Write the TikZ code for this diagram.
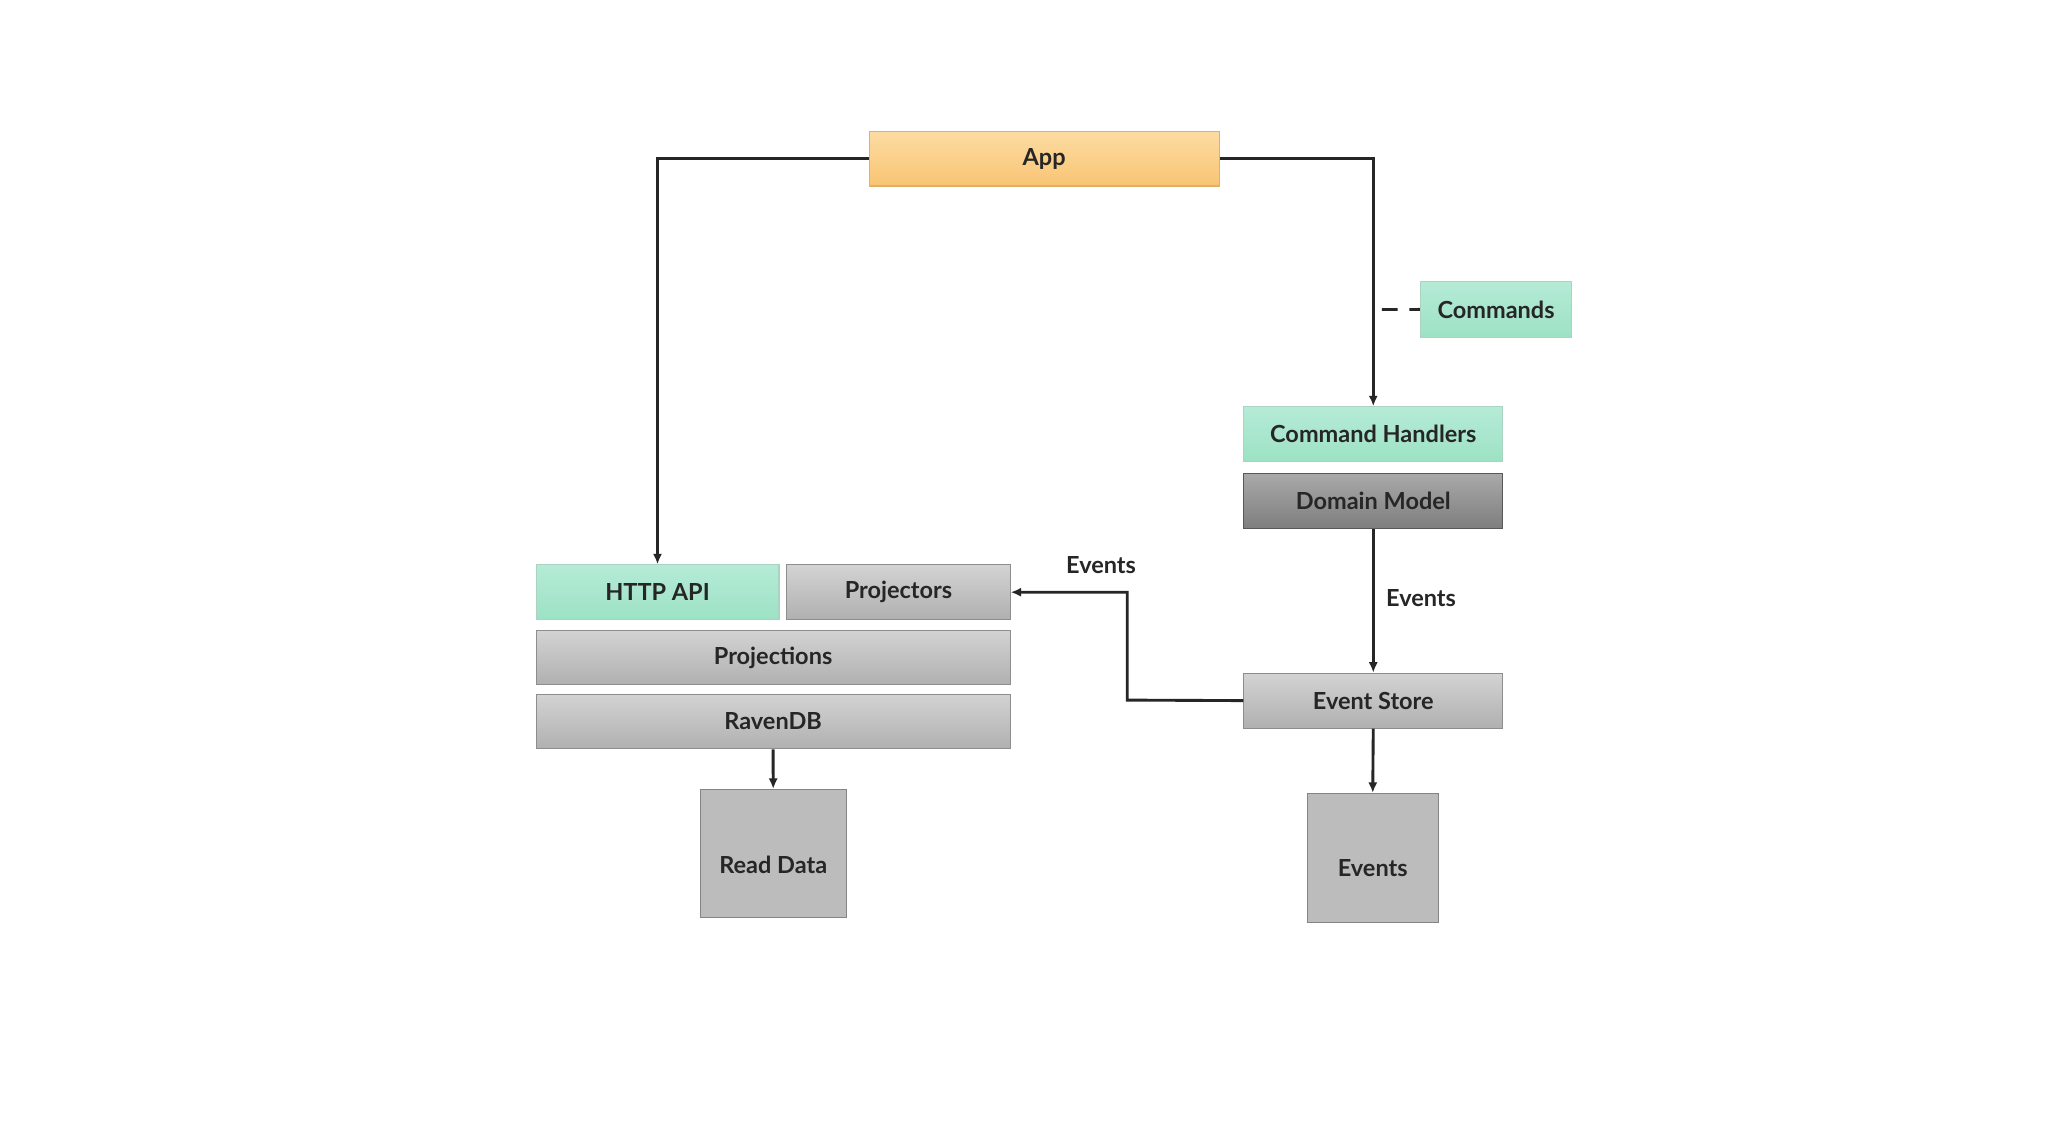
\documentclass[tikz,border=0pt]{standalone}
\usepackage{fontspec}
\setmainfont{Lato}
\usetikzlibrary{arrows.meta,shapes.geometric}
\definecolor{gtop}{HTML}{B5EBD7}\definecolor{gbot}{HTML}{9DE2C4}
\definecolor{ytop}{HTML}{FCDCA3}\definecolor{ybot}{HTML}{F9C473}
\definecolor{atop}{HTML}{D3D3D3}\definecolor{abot}{HTML}{B0B0B0}
\definecolor{dtop}{HTML}{A9A9A9}\definecolor{dbot}{HTML}{7E7E7E}
\definecolor{ink}{HTML}{262626}
\begin{document}
\begin{tikzpicture}[x=1pt,y=-1pt,
  font=\bfseries\fontsize{18}{20}\selectfont, text=ink,
  bx/.style={draw, line width=0.8pt, inner sep=0pt, anchor=north west},
  green/.style={bx, draw=gbot!85!black!70, top color=gtop, bottom color=gbot},
  yel/.style={bx, draw=ybot!90!black, top color=ytop, bottom color=ybot},
  gry/.style={bx, draw=abot!80!black, top color=atop, bottom color=abot},
  dgry/.style={bx, draw=dbot!70!black, top color=dtop, bottom color=dbot},
  con/.style={draw=ink, line width=2.2pt},
  arr/.style={con, -{Latex[length=8pt,width=7pt]}},
  cyl/.style={cylinder, shape border rotate=90, aspect=0.28, draw=abot!75!black, line width=0.8pt,
     cylinder uses custom fill, cylinder body fill=abot!85, cylinder end fill=atop, inner sep=0pt}]
\useasboundingbox[fill=white] (0,0) rectangle (1568,873.6);
\node[yel, minimum width=268pt, minimum height=42pt] (app) at (665,100) {App};
\node[green, minimum width=116pt, minimum height=43pt] (cmds) at (1087,215) {Commands};
\node[green, minimum width=198pt, minimum height=42pt] (ch) at (952,311) {Command Handlers};
\node[dgry, minimum width=198pt, minimum height=42pt] (dm) at (952,362) {Domain Model};
\node[green, minimum width=186pt, minimum height=42pt] (http) at (410,432) {HTTP API};
\node[gry, minimum width=171pt, minimum height=42pt] (proj) at (602,432) {Projectors};
\node[gry, minimum width=363pt, minimum height=42pt] (pjs) at (410,482) {Projections};
\node[gry, minimum width=363pt, minimum height=42pt] (rdb) at (410,531) {RavenDB};
\node[gry, minimum width=198pt, minimum height=42pt] (es) at (952,515) {Event Store};
\node[cyl, minimum width=112pt, minimum height=98pt, anchor=north] (rd) at (592,604) {};
\node at (592,662) {Read Data};
\node[cyl, minimum width=100pt, minimum height=99pt, anchor=north] (ev) at (1051,607) {};
\node at (1051,665) {Events};
\draw[arr] (app.west) -| (http.north);
\draw[arr] (app.east) -| (ch.north);
\draw[con, dash pattern=on 12pt off 9pt] (1058,237) -- (cmds.west);
\draw[arr] (dm.south) -- (es.north);
\node at (1088,458) {Events};
\draw[arr] (es.west) -- (863,536) |- (proj.east);
\node at (843,433) {Events};
\draw[arr] (rdb.south) -- (rd.north);
\draw[arr] (es.south) -- (ev.north);
\end{tikzpicture}
\end{document}
